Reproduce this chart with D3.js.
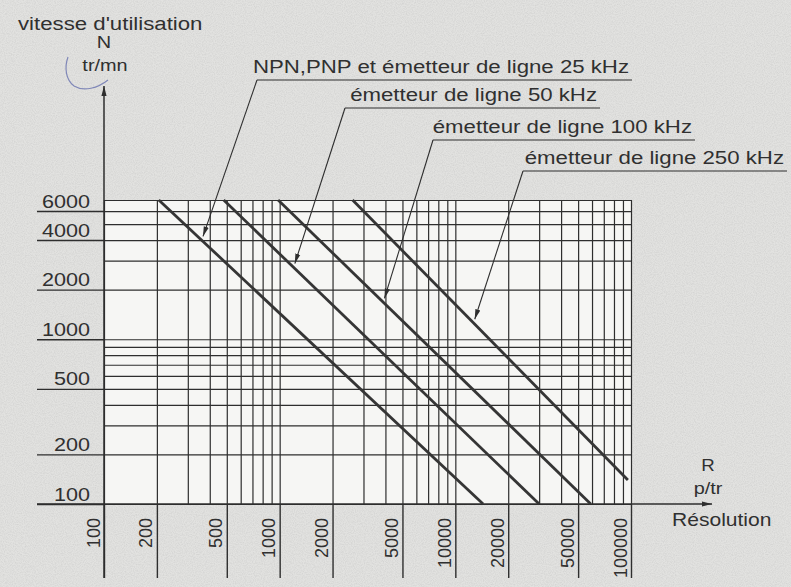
<!DOCTYPE html>
<html>
<head>
<meta charset="utf-8">
<script src="https://cdn.jsdelivr.net/npm/d3@7"></script>
<style>
  body { margin: 0; background: #e2e2e0; }
  svg { display: block; font-family: "Liberation Sans", Arial, sans-serif; }
</style>
</head>
<body>
<div id="chart"></div>
<script>
// grid lines (log-log paper)
const xGrid = [100, 200, 300, 400, 500, 600, 700, 800, 900,
  1000, 2000, 3000, 4000, 5000, 6000, 7000, 8000, 9000,
  10000, 20000, 30000, 40000, 50000, 60000, 70000, 80000, 90000, 100000];
const yGrid = [100, 200, 300, 400, 500, 600, 700, 800, 900,
  1000, 2000, 3000, 4000, 5000, 6000, 7000];
// labelled ticks
const xTicks = [100, 200, 500, 1000, 2000, 5000, 10000, 20000, 50000, 100000];
const yTicks = [100, 200, 500, 1000, 2000, 4000, 6000];

const seriesNames = [
  "NPN,PNP et émetteur de ligne 25 kHz",
  "émetteur de ligne 50 kHz",
  "émetteur de ligne 100 kHz",
  "émetteur de ligne 250 kHz"
];
const startR = [205, 480, 980, 2600];
const startN = [7000, 7000, 7000, 7000];
const endR = [14400, 30000, 59000, 96000];
const endN = [100, 100, 100, 140];
// R where each callout arrow touches its line
const arrowR = [366, 1220, 3950, 12900];

const width = 791, height = 587;
const ink = "#2e2e2e";
const textInk = "#303030";
const font = "'Liberation Sans', Arial, sans-serif";

const svg = d3.select("#chart").append("svg")
  .attr("width", width)
  .attr("height", height);

const defs = svg.append("defs");
defs.append("marker")
  .attr("id", "arrow")
  .attr("viewBox", "0 -4 10 8")
  .attr("refX", 10).attr("refY", 0)
  .attr("markerUnits", "userSpaceOnUse")
  .attr("markerWidth", 10).attr("markerHeight", 8)
  .attr("orient", "auto")
  .append("path").attr("d", "M0,-2.6L10,0L0,2.6Z").attr("fill", ink);

// scanned paper grain
const grain = defs.append("filter").attr("id", "grain")
  .attr("x", 0).attr("y", 0).attr("width", "100%").attr("height", "100%");
grain.append("feTurbulence")
  .attr("type", "fractalNoise").attr("baseFrequency", 0.9)
  .attr("numOctaves", 2).attr("seed", 3).attr("result", "noise");
grain.append("feColorMatrix").attr("in", "noise").attr("type", "matrix")
  .attr("values", "0 0 0 0 0.45  0 0 0 0 0.45  0 0 0 0 0.45  0 0 0 -1.6 1.05")
  .attr("result", "dots");
grain.append("feComposite").attr("in", "dots").attr("in2", "SourceGraphic").attr("operator", "in");

svg.append("rect").attr("width", width).attr("height", height).attr("fill", "#e2e2e0");
svg.append("rect").attr("width", width).attr("height", height).attr("fill", "#e2e2e0")
  .attr("filter", "url(#grain)").attr("opacity", 0.35);

var x = d3.scaleLog().domain([100, 100000]).range([104, 631]);
var y = d3.scaleLog().domain([100, 7000]).range([504, 200]);

// paper
svg.append("rect")
  .attr("x", x(100)).attr("y", y(7000))
  .attr("width", x(100000) - x(100))
  .attr("height", y(100) - y(7000))
  .attr("fill", "#f6f6f4");

// vertical grid
svg.append("g")
  .attr("transform", "translate(0," + y(100) + ")")
  .call(d3.axisBottom(x).tickValues(xGrid).tickSize(-(y(100) - y(7000))).tickFormat(""))
  .call(g => g.select(".domain").remove())
  .selectAll("line").attr("stroke", ink).attr("stroke-width", 1.2);

// horizontal grid
svg.append("g")
  .attr("transform", "translate(" + x(100) + ",0)")
  .call(d3.axisLeft(y).tickValues(yGrid).tickSize(-(x(100000) - x(100))).tickFormat(""))
  .call(g => g.select(".domain").remove())
  .selectAll("line").attr("stroke", ink).attr("stroke-width", 1.2);

// x tick separators + rotated labels
const xAxis = svg.append("g")
  .attr("transform", "translate(0," + y(100) + ")")
  .call(d3.axisBottom(x).tickValues(xTicks).tickSize(74).tickFormat(d3.format("d")));
xAxis.select(".domain").remove();
xAxis.attr("font-family", font);
xAxis.selectAll("line").attr("stroke", ink).attr("stroke-width", 1.4);
xAxis.selectAll("text")
  .attr("x", 0).attr("y", 0).attr("dy", 0)
  .attr("text-anchor", "end")
  .attr("transform", "translate(-5,14) rotate(-90)")
  .attr("fill", textInk)
  .style("font-size", "18px");

// y ticks: long underline with label sitting on it
const yAxis = svg.append("g")
  .attr("transform", "translate(" + x(100) + ",0)")
  .call(d3.axisLeft(y).tickValues(yTicks).tickSize(67).tickFormat(d3.format("d")));
yAxis.select(".domain").remove();
yAxis.attr("font-family", font);
yAxis.selectAll("line").attr("stroke", ink).attr("stroke-width", 1.4);
yAxis.selectAll("text")
  .attr("x", 0).attr("dy", 0)
  .attr("text-anchor", "end")
  .attr("transform", "translate(-14,-4) scale(1.2,1)")
  .attr("fill", textInk)
  .style("font-size", "18px");

// axes with arrows
svg.append("line")
  .attr("x1", x(100)).attr("y1", y(100) + 74)
  .attr("x2", x(100)).attr("y2", 86)
  .attr("stroke", ink).attr("stroke-width", 1.5)
  .attr("marker-end", "url(#arrow)");
svg.append("line")
  .attr("x1", 37).attr("y1", y(100))
  .attr("x2", 712).attr("y2", y(100))
  .attr("stroke", ink).attr("stroke-width", 1.5)
  .attr("marker-end", "url(#arrow)");

// series lines
const lineGen = d3.line().x(d => x(d[0])).y(d => y(d[1]));
const series = seriesNames.map((name, i) => ({
  name: name,
  points: [[startR[i], startN[i]], [endR[i], endN[i]]]
}));
svg.append("g").selectAll("path")
  .data(series)
  .enter()
  .append("path")
  .attr("d", d => lineGen(d.points))
  .attr("fill", "none")
  .attr("stroke", "#353535")
  .attr("stroke-width", 2.8);

// callouts
const callout = [
  { x0: 257, y0: 80, x1: 632 },
  { x0: 345, y0: 108, x1: 600 },
  { x0: 433, y0: 140, x1: 695 },
  { x0: 523, y0: 171, x1: 787 }
];
function pointOn(i, r) {
  const t = (Math.log10(r) - Math.log10(startR[i])) / (Math.log10(endR[i]) - Math.log10(startR[i]));
  const n = Math.pow(10, Math.log10(startN[i]) + t * (Math.log10(endN[i]) - Math.log10(startN[i])));
  return [x(r), y(n) - 5];
}
function stretchedText(px, py, str, anchor, size) {
  return svg.append("text")
    .attr("transform", "translate(" + px + "," + py + ") scale(1.17,1)")
    .attr("text-anchor", anchor || "start")
    .attr("fill", textInk)
    .style("font-size", (size || 19) + "px")
    .text(str);
}
series.forEach((s, i) => {
  const c = callout[i];
  const tip = pointOn(i, arrowR[i]);
  svg.append("line")
    .attr("x1", c.x0).attr("y1", c.y0).attr("x2", c.x1).attr("y2", c.y0)
    .attr("stroke", ink).attr("stroke-width", 1.2);
  svg.append("line")
    .attr("x1", c.x0).attr("y1", c.y0).attr("x2", tip[0]).attr("y2", tip[1])
    .attr("stroke", ink).attr("stroke-width", 1.1)
    .attr("marker-end", "url(#arrow)");
  stretchedText(c.x1 - 3, c.y0 - 7, s.name, "end");
});

// axis titles
stretchedText(18, 30, "vitesse d'utilisation");
stretchedText(104, 48, "N", "middle", 17);
stretchedText(105, 71, "tr/mn", "middle", 17);
stretchedText(708, 471, "R", "middle", 16);
stretchedText(708, 494, "p/tr", "middle", 17);
stretchedText(672, 526, "Résolution", "start", 18);

// pen mark around the unit
svg.append("path")
  .attr("d", "M68,57 C64,68 66,80 74,86 C84,92 98,88 108,80")
  .attr("fill", "none")
  .attr("stroke", "#8088b8")
  .attr("stroke-width", 1.2);
</script>
</body>
</html>
